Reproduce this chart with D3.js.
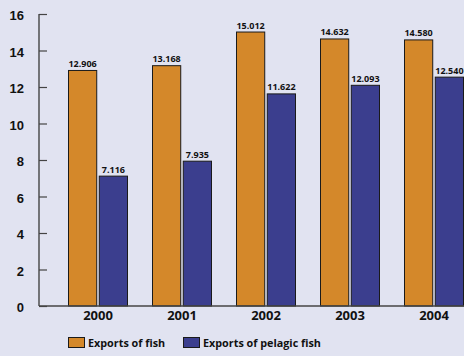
<!DOCTYPE html>
<html><head><meta charset="utf-8">
<script src="https://cdn.jsdelivr.net/npm/d3@7"></script>
<style>
html,body{margin:0;padding:0;background:#e1e3f1;}
svg{display:block;font-family:"Open Sans",sans-serif;}
</style></head>
<body>
<svg id="chart" width="464" height="356"></svg>
<script>
const years = ["2000","2001","2002","2003","2004"];
const seriesNames = ["Exports of fish","Exports of pelagic fish"];
const fish = [12.906, 13.168, 15.012, 14.632, 14.580];
const pelagic = [7.116, 7.935, 11.622, 12.093, 12.540];
const yTicks = [0,2,4,6,8,10,12,14,16];
const colors = ["#d4882a","#3b3e8e"];

const svg = d3.select("#chart");
svg.append("rect").attr("width",464).attr("height",356).attr("fill","#e1e3f1");

const y = d3.scaleLinear().domain([0,16]).range([306,14]);
const x0 = d3.scaleBand().domain(years).range([56,476]).paddingInner(24/84).paddingOuter(12/84);
const x1 = d3.scaleBand().domain(seriesNames).range([0,x0.bandwidth()]).paddingInner(0.05);

const data = years.map((yr,i)=>({year:yr, vals:[{s:seriesNames[0],v:fish[i]},{s:seriesNames[1],v:pelagic[i]}]}));

// y axis
const yAxis = d3.axisLeft(y).tickValues(yTicks).tickSize(-8).tickPadding(15).tickFormat(d3.format("d"));
const ga = svg.append("g").attr("transform","translate(39,0)").call(yAxis);
ga.select(".domain").remove();
ga.selectAll(".tick line").attr("stroke","#444").attr("stroke-width",1.2);
ga.selectAll(".tick text").attr("font-size",13).attr("font-weight",700).attr("fill","#111").attr("dy","0.45em");
svg.append("line").attr("x1",39).attr("x2",39).attr("y1",y(16)).attr("y2",y(0)).attr("stroke","#444").attr("stroke-width",1.4);

// bars
const groups = svg.append("g").selectAll("g").data(data).join("g")
  .attr("transform",d=>`translate(${x0(d.year)},0)`);
groups.selectAll("rect").data(d=>d.vals).join("rect")
  .attr("x",d=>x1(d.s)+0.5).attr("y",d=>y(d.v))
  .attr("width",x1.bandwidth()-1).attr("height",d=>y(0)-y(d.v))
  .attr("fill",(d,i)=>colors[i]).attr("stroke","#1a1a1a").attr("stroke-width",1);
groups.selectAll("text").data(d=>d.vals).join("text")
  .attr("x",d=>x1(d.s)+x1.bandwidth()/2).attr("y",d=>y(d.v)-3.5)
  .attr("text-anchor","middle").attr("font-size",9).attr("font-weight",700).attr("fill","#111")
  .text(d=>d3.format(".3f")(d.v));

// x axis
svg.append("line").attr("x1",39).attr("x2",464).attr("y1",y(0)).attr("y2",y(0)).attr("stroke","#444").attr("stroke-width",1.4);
svg.append("g").selectAll("text").data(years).join("text")
  .attr("x",d=>x0(d)+x0.bandwidth()/2).attr("y",320)
  .attr("text-anchor","middle").attr("font-size",13).attr("font-weight",700).attr("fill","#111")
  .text(d=>d);

// legend
const legX = [68,183];
const leg = svg.append("g").selectAll("g").data(seriesNames).join("g")
  .attr("transform",(d,i)=>`translate(${legX[i]},337)`);
leg.append("rect").attr("x",0.5).attr("y",0.5).attr("width",16).attr("height",10)
  .attr("fill",(d,i)=>colors[i]).attr("stroke","#1a1a1a").attr("stroke-width",1);
leg.append("text").attr("x",20).attr("y",9.5).attr("font-size",10.8).attr("font-weight",700).attr("fill","#111").text(d=>d);
</script>
</body></html>
